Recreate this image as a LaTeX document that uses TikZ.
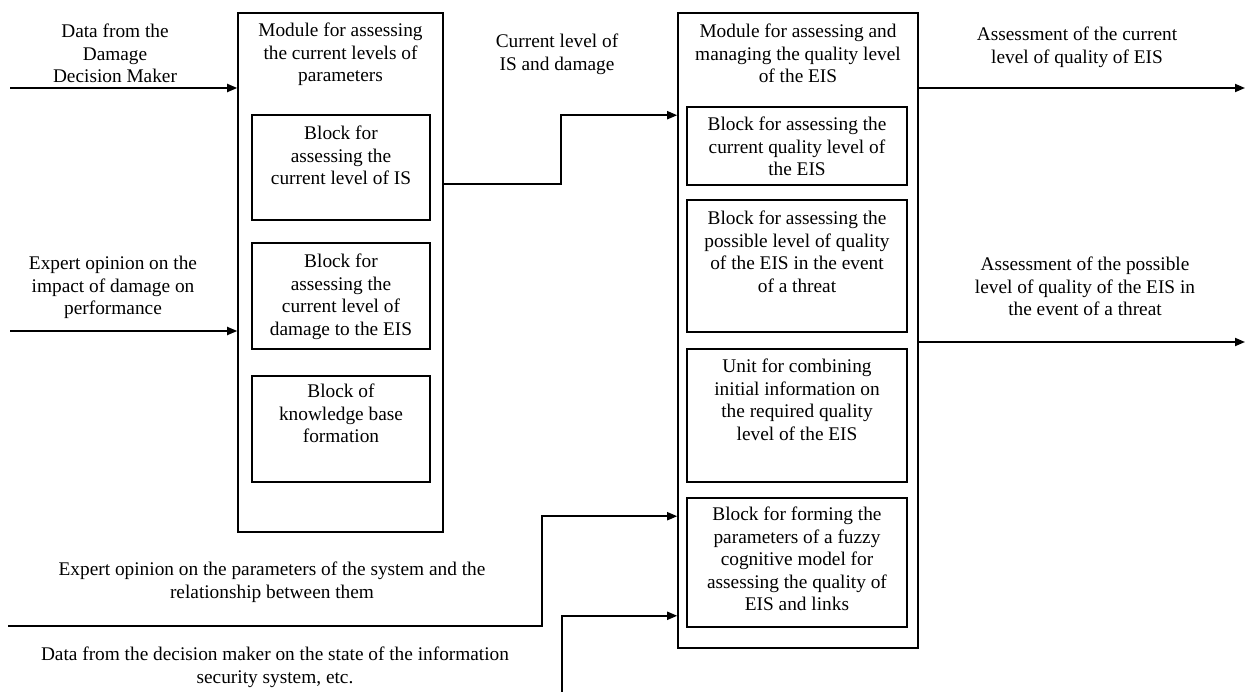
\documentclass[tikz,border=0pt]{standalone}
\usepackage{fontspec}
\setmainfont{Liberation Serif}
\usetikzlibrary{arrows.meta, positioning}

\begin{document}
\begin{tikzpicture}[x=0.02cm, y=-0.02cm,
  font=\fontsize{11}{12.8}\selectfont,
  box/.style={draw, line width=0.9pt, inner sep=0pt},
  txt/.style={align=center, inner sep=0pt, anchor=north},
  flow/.style={line width=1pt, -{Triangle[length=0.2cm, width=0.16cm]}}]
  \useasboundingbox (0,0) rectangle (1250,692);
  % module for current levels
  \node[box, minimum width=4.10cm, minimum height=10.38cm] (L) at (340.5,272.5) {};
  \node[txt] (Ltxt) at (340.5,23) {Module for assessing\\the current levels of\\parameters};
  \node[box, minimum width=3.56cm, minimum height=2.10cm] (l1) at (341,167.5) {};
  \node[txt] (l1txt) at (341,126) {Block for\\assessing the\\current level of IS};
  \node[box, minimum width=3.56cm, minimum height=2.12cm] (l2) at (341,296) {};
  \node[txt] (l2txt) at (341,254) {Block for\\assessing the\\current level of\\damage to the EIS};
  \node[box, minimum width=3.56cm, minimum height=2.12cm] (l3) at (341,429) {};
  \node[txt] (l3txt) at (341,384) {Block of\\knowledge base\\formation};
  % module for quality level
  \node[box, minimum width=4.80cm, minimum height=12.70cm] (R) at (798,330.5) {};
  \node[txt] (Rtxt) at (798,24) {Module for assessing and\\managing the quality level\\of the EIS};
  \node[box, minimum width=4.40cm, minimum height=1.56cm] (rA) at (797,146) {};
  \node[txt] (rAtxt) at (797,117) {Block for assessing the\\current quality level of\\the EIS};
  \node[box, minimum width=4.40cm, minimum height=2.64cm] (rB) at (797,266) {};
  \node[txt] (rBtxt) at (797,211) {Block for assessing the\\possible level of quality\\of the EIS in the event\\of a threat};
  \node[box, minimum width=4.40cm, minimum height=2.66cm] (rC) at (797,415.5) {};
  \node[txt] (rCtxt) at (797,359) {Unit for combining\\initial information on\\the required quality\\level of the EIS};
  \node[box, minimum width=4.40cm, minimum height=2.58cm] (rD) at (797,562.5) {};
  \node[txt] (rDtxt) at (797,507) {Block for forming the\\parameters of a fuzzy\\cognitive model for\\assessing the quality of\\EIS and links};
  % input and output labels
  \node[txt] (dmk) at (115,24) {Data from the\\Damage\\Decision Maker};
  \node[txt] (eimp) at (113,256) {Expert opinion on the\\impact of damage on\\performance};
  \node[txt] (cur) at (557,34) {Current level of\\IS and damage};
  \node[txt] (acur) at (1077,27) {Assessment of the current\\level of quality of EIS};
  \node[txt] (apos) at (1085,257) {Assessment of the possible\\level of quality of the EIS in\\the event of a threat};
  \node[txt] (epar) at (272,562) {Expert opinion on the parameters of the system and the\\relationship between them};
  \node[txt] (dsec) at (275,647) {Data from the decision maker on the state of the information\\security system, etc.};
  % free ends
  \coordinate (in1) at (10,88);
  \coordinate (in2) at (10,331);
  \coordinate (out1) at (1245,88);
  \coordinate (out2) at (1245,342);
  \coordinate (ex3) at (8,626);
  \coordinate (dm) at (562,692);
  \coordinate (lout) at ([yshift=-0.33cm]L.east |- l1.east);
  % connectors
  \draw[flow] (in1) -- (in1 -| L.west);
  \draw[flow] (in2) -- (in2 -| L.west);
  \draw[flow] (lout) -- ++(117,0) |- ([yshift=-0.18cm]R.west |- rA.north);
  \draw[flow] (R.east |- out1) -- (out1);
  \draw[flow] (R.east |- out2) -- (out2);
  \draw[flow] (ex3) -- ++(534,0) |- ([yshift=-0.38cm]R.west |- rD.north);
  \draw[flow] (dm) |- ([yshift=0.24cm]R.west |- rD.south);
\end{tikzpicture}
\end{document}
